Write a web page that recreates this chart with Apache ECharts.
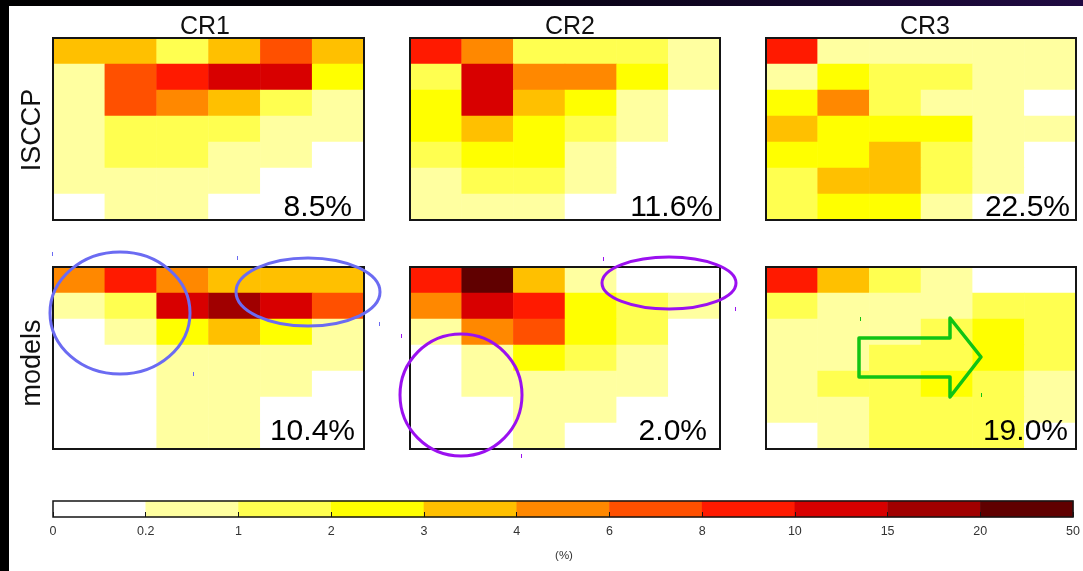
<!DOCTYPE html>
<html>
<head>
<meta charset="utf-8">
<script src="https://cdn.jsdelivr.net/npm/echarts@6/dist/echarts.min.js"></script>
<style>
html, body { margin: 0; padding: 0; background: #fff; }
#chart { width: 1083px; height: 571px; }
</style>
</head>
<body>
<div id="chart"></div>
<script>
// Joint histogram bins: cloud optical depth (columns) x cloud-top pressure in hPa (rows, top = high clouds)
const tauBins = ['0.3–1.3', '1.3–3.6', '3.6–9.4', '9.4–23', '23–60', '60–380'];
const pcBins = ['50–180', '180–310', '310–440', '440–560', '560–680', '680–800', '800–1000'];

const regimes = ['CR1', 'CR2', 'CR3'];
const sources = ['ISCCP', 'models'];

// Relative frequency of occurrence (%) of each cloud regime
const isccpFreq = [8.5, 11.6, 22.5];
const modelsFreq = [10.4, 2.0, 19.0];

// Histogram values (%), rows top -> bottom, columns left -> right
const isccpCR1 = [
  [3.5, 3.3, 1.6, 3.6, 6.8, 3.4],
  [0.5, 6.5, 8.7, 11.2, 10.8, 2.4],
  [0.6, 6.2, 4.8, 3.2, 1.5, 0.8],
  [0.5, 1.4, 1.6, 1.2, 0.7, 0.5],
  [0.4, 1.3, 1.2, 0.8, 0.5, 0.1],
  [0.4, 0.6, 0.7, 0.4, 0.1, 0.1],
  [0.1, 0.3, 0.4, 0.1, 0.05, 0.05]
];
const isccpCR2 = [
  [8.6, 4.9, 1.5, 1.4, 1.3, 0.7],
  [1.6, 10.9, 5.2, 4.6, 2.2, 0.6],
  [2.3, 10.4, 3.3, 2.1, 0.7, 0.1],
  [2.4, 3.5, 2.6, 1.5, 0.6, 0.1],
  [1.7, 2.2, 2.1, 0.8, 0.1, 0.1],
  [0.7, 1.4, 1.3, 0.5, 0.1, 0.05],
  [0.4, 0.6, 0.5, 0.1, 0.05, 0.05]
];
const isccpCR3 = [
  [8.3, 0.8, 0.7, 0.6, 0.5, 0.4],
  [0.9, 2.1, 1.6, 1.3, 0.6, 0.4],
  [2.2, 4.4, 1.4, 0.8, 0.5, 0.1],
  [3.2, 2.7, 2.5, 2.1, 0.7, 0.3],
  [2.6, 2.3, 3.3, 1.8, 0.6, 0.1],
  [1.9, 3.4, 3.1, 1.6, 0.5, 0.1],
  [1.5, 2.4, 2.2, 0.7, 0.1, 0.05]
];
const modelsCR1 = [
  [4.7, 9.1, 4.3, 3.6, 3.5, 3.3],
  [0.6, 1.7, 12.4, 16.5, 11.3, 7.2],
  [0.1, 0.7, 2.6, 3.4, 2.2, 0.6],
  [0.1, 0.1, 0.6, 0.5, 0.4, 0.3],
  [0.05, 0.1, 0.5, 0.4, 0.3, 0.1],
  [0.05, 0.05, 0.4, 0.3, 0.1, 0.05],
  [0.05, 0.05, 0.3, 0.3, 0.1, 0.05]
];
const modelsCR2 = [
  [9.4, 23.5, 3.6, 0.7, 0.1, 0.1],
  [5.3, 13.2, 8.8, 2.5, 1.4, 0.4],
  [0.8, 4.6, 6.7, 2.3, 1.2, 0.1],
  [0.1, 0.8, 2.1, 1.3, 0.6, 0.1],
  [0.1, 0.5, 0.6, 0.5, 0.3, 0.1],
  [0.05, 0.1, 0.4, 0.3, 0.1, 0.05],
  [0.05, 0.05, 0.3, 0.1, 0.05, 0.05]
];
const modelsCR3 = [
  [8.2, 3.3, 1.4, 0.6, 0.1, 0.1],
  [1.3, 0.8, 0.7, 0.8, 1.2, 1.1],
  [0.7, 0.6, 0.8, 1.4, 2.2, 1.5],
  [0.6, 0.7, 1.1, 1.5, 2.3, 1.4],
  [0.5, 1.2, 1.3, 2.1, 1.6, 0.8],
  [0.4, 0.7, 1.2, 1.3, 1.1, 0.6],
  [0.1, 0.5, 1.1, 1.2, 1.0, 0.1]
];

// Colour scale: bin edges (%) and one colour per bin
const colorBounds = [0, 0.2, 1, 2, 3, 4, 6, 8, 10, 15, 20, 50];
const binColors = ['#ffffff', '#ffffa0', '#ffff50', '#ffff00', '#ffc000', '#ff8800',
                   '#ff5000', '#ff1a00', '#d80000', '#a00000', '#600000'];
const tickLabels = colorBounds.map(String);

// ---- layout ----
const COL_LEFT = [53, 410, 766];
const COL_W = [311, 310, 310];
const ROW_TOP = [38, 267];
const PANEL_H = 182;
const FREQ_RIGHT = [[352, 713, 1070], [355, 707, 1068]];
const FONT = '"Liberation Sans", Arial, Helvetica, sans-serif';

const panelData = [
  [isccpCR1, isccpCR2, isccpCR3],
  [modelsCR1, modelsCR2, modelsCR3]
];
const panelFreq = [isccpFreq, modelsFreq];

const grid = [], xAxis = [], yAxis = [], series = [], graphic = [];

for (let r = 0; r < 2; r++) {
  for (let c = 0; c < 3; c++) {
    const gi = grid.length;
    grid.push({
      left: COL_LEFT[c], top: ROW_TOP[r], width: COL_W[c], height: PANEL_H,
      show: true, borderColor: '#151515', borderWidth: 2,
      backgroundColor: 'transparent', z: 10
    });
    xAxis.push({ gridIndex: gi, type: 'category', data: tauBins, show: false });
    yAxis.push({ gridIndex: gi, type: 'category', data: pcBins, inverse: true, show: false });
    const m = panelData[r][c];
    const data = [];
    m.forEach((row, yi) => row.forEach((v, xi) => data.push([xi, yi, v])));
    series.push({
      name: sources[r] + ' ' + regimes[c],
      type: 'heatmap', xAxisIndex: gi, yAxisIndex: gi, data,
      itemStyle: { borderWidth: 0 },
      emphasis: { disabled: true }
    });
    // regime frequency label, lower right corner
    graphic.push({
      type: 'text', z: 50,
      x: FREQ_RIGHT[r][c],
      y: ROW_TOP[r] + (r === 0 ? 170 : 165),
      style: {
        text: panelFreq[r][c].toFixed(1) + '%', fill: '#000',
        fontSize: 30, fontFamily: FONT, align: 'right', verticalAlign: 'middle'
      }
    });
  }
}

// Colour bar: one cell per bin, coloured by the same piecewise map
const cbIndex = grid.length;
grid.push({
  left: 53, top: 501, width: 1024, height: 16,
  show: true, borderColor: '#151515', borderWidth: 1.5,
  backgroundColor: 'transparent', z: 10
});
xAxis.push({ gridIndex: cbIndex, type: 'category', position: 'top',
  data: binColors.map((_, i) => 'bin' + i), show: false });
xAxis.push({
  gridIndex: cbIndex, type: 'value', position: 'bottom',
  min: 0, max: binColors.length, interval: 1, z: 11,
  axisLine: { show: false },
  axisTick: { show: true, inside: true, length: 5, lineStyle: { color: '#151515', width: 1 } },
  splitLine: { show: false },
  axisLabel: {
    show: true, margin: 8, fontSize: 12.5, color: '#333', fontFamily: FONT,
    showMinLabel: true, showMaxLabel: true,
    formatter: v => tickLabels[v]
  }
});
yAxis.push({ gridIndex: cbIndex, type: 'category', data: ['%'], show: false });
series.push({
  name: 'colour scale', type: 'heatmap',
  xAxisIndex: cbIndex, yAxisIndex: cbIndex,
  data: binColors.map((_, i) => [i, 0, (colorBounds[i] + colorBounds[i + 1]) / 2]),
  itemStyle: { borderWidth: 0 },
  emphasis: { disabled: true }
});

const pieces = binColors.map((color, i) => ({ gte: colorBounds[i], lt: colorBounds[i + 1], color }));

// Frame bands
graphic.push({
  type: 'rect', z: 0, shape: { x: 0, y: 0, width: 1083, height: 6 },
  style: { fill: new echarts.graphic.LinearGradient(0, 0, 1, 0, [
    { offset: 0, color: '#000000' }, { offset: 0.45, color: '#06020f' }, { offset: 1, color: '#200a42' }
  ]) }
});
graphic.push({ type: 'rect', z: 0, shape: { x: 0, y: 0, width: 9, height: 571 }, style: { fill: '#000' } });

// Column titles
const titleX = [205, 570, 925];
regimes.forEach((t, c) => graphic.push({
  type: 'text', z: 50, x: titleX[c], y: 27,
  style: { text: t, fill: '#111', fontSize: 25, fontFamily: FONT, align: 'center', verticalAlign: 'middle' }
}));
// Row titles
const rowLabelY = [130, 363];
sources.forEach((t, r) => graphic.push({
  type: 'text', z: 50, x: 33, y: rowLabelY[r], rotation: Math.PI / 2,
  style: { text: t, fill: '#111', fontSize: 27, fontFamily: FONT, align: 'center', verticalAlign: 'middle' }
}));
// Unit under the colour bar
graphic.push({
  type: 'text', z: 50, x: 564, y: 556,
  style: { text: '(%)', fill: '#333', fontSize: 11.5, fontFamily: FONT, align: 'center', verticalAlign: 'middle' }
});

// Highlight annotations
const BLUE = '#6b6bf2', PURPLE = '#9b10f0', GREEN = '#10c414';
const ellipse = (cx, cy, rx, ry, stroke) => ({
  type: 'ellipse', z: 60, shape: { cx, cy, rx, ry },
  style: { fill: 'none', stroke, lineWidth: 3 }
});
graphic.push(ellipse(120, 313, 70, 61, BLUE));
graphic.push(ellipse(308, 292, 72, 34, BLUE));
graphic.push(ellipse(461, 395, 61, 61, PURPLE));
graphic.push(ellipse(669, 283, 67, 26, PURPLE));
graphic.push({
  type: 'polygon', z: 60,
  shape: { points: [[859, 338], [950, 338], [950, 318], [981, 357], [950, 397], [950, 377], [859, 377]] },
  style: { fill: 'none', stroke: GREEN, lineWidth: 3.5, lineJoin: 'round' }
});
// small stray pen marks around the annotations
[[52, 252, BLUE], [237, 256, BLUE], [193, 372, BLUE], [379, 322, BLUE],
 [603, 257, PURPLE], [735, 307, PURPLE], [401, 334, PURPLE], [521, 454, PURPLE],
 [860, 317, GREEN], [981, 393, GREEN]].forEach(([x, y, col]) => graphic.push({
  type: 'rect', z: 60, shape: { x, y, width: 1, height: 4 }, style: { fill: col }
}));

const chart = echarts.init(document.getElementById('chart'), null, { renderer: 'canvas' });
chart.setOption({
  animation: false,
  backgroundColor: '#ffffff',
  grid, xAxis, yAxis, series, graphic,
  visualMap: { type: 'piecewise', show: false, dimension: 2, pieces }
});
</script>
</body>
</html>
